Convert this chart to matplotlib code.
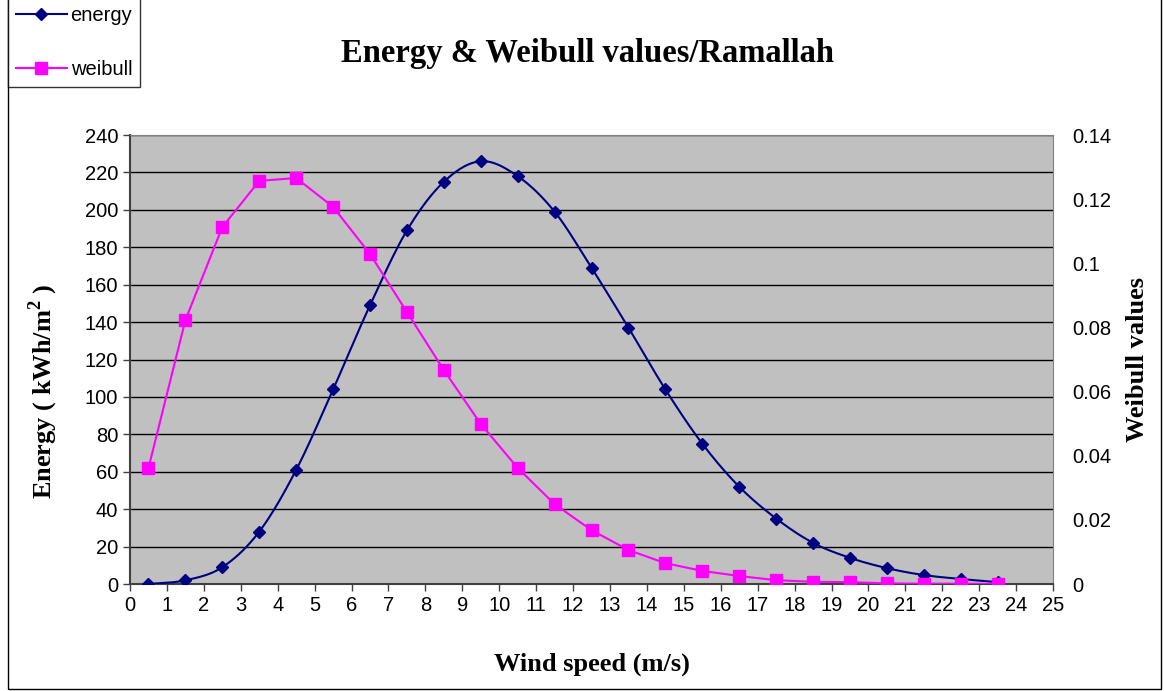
import numpy as np
import matplotlib
matplotlib.use('Agg')
import matplotlib.pyplot as plt
from matplotlib.patches import Rectangle

speed = np.arange(0.5, 24, 1.0)
energy = [0, 2, 9, 28, 61, 104, 149, 189, 215, 226, 218, 199, 169, 137,
          104, 75, 52, 35, 22, 14, 8.5, 4.8, 2.7, 1]
weibull = [0.0362, 0.0823, 0.1113, 0.1257, 0.1266, 0.1176, 0.1029, 0.0848,
           0.0667, 0.0499, 0.0362, 0.0249, 0.0168, 0.0106, 0.0065, 0.0041,
           0.0025, 0.0012, 0.0007, 0.0006, 0.0002, 0.0001, 0.0001, 0.0]


def smooth(x, y, n=20):
    # catmull-rom through the points, like a spreadsheet "smoothed line"
    x = np.asarray(x, float)
    y = np.asarray(y, float)
    px = np.concatenate([[2 * x[0] - x[1]], x, [2 * x[-1] - x[-2]]])
    py = np.concatenate([[2 * y[0] - y[1]], y, [2 * y[-1] - y[-2]]])
    xs, ys = [], []
    t = np.linspace(0, 1, n, endpoint=False)
    for i in range(1, len(px) - 2):
        for p, out in ((px, xs), (py, ys)):
            p0, p1, p2, p3 = p[i - 1], p[i], p[i + 1], p[i + 2]
            out.extend(0.5 * (2 * p1 + (-p0 + p2) * t
                              + (2 * p0 - 5 * p1 + 4 * p2 - p3) * t ** 2
                              + (-p0 + 3 * p1 - 3 * p2 + p3) * t ** 3))
    xs.append(x[-1])
    ys.append(y[-1])
    return np.array(xs), np.array(ys)


serif = 'Liberation Serif'
sans = 'Liberation Sans'
navy = '#000080'
magenta = '#FF00FF'
plt.rcParams['mathtext.fontset'] = 'custom'
plt.rcParams['mathtext.bf'] = 'Liberation Serif:bold'
plt.rcParams['mathtext.rm'] = 'Liberation Serif:bold'

fig = plt.figure(figsize=(11.64, 6.91), dpi=100)
fig.patches.append(Rectangle((0.007, 0.003), 0.99, 1.2, transform=fig.transFigure,
                             fill=False, edgecolor='black', lw=1))

ax = fig.add_axes([0.1117, 0.1548, 0.793, 0.6498])
ax.set_facecolor('#C0C0C0')
ax.set_xlim(0, 25)
ax.set_ylim(0, 240)
ax.set_xticks(range(0, 26))
ax.set_yticks(range(0, 241, 20))
ax.grid(axis='y', color='black', lw=1)
ax.set_axisbelow(True)
ax.tick_params(axis='both', direction='out', length=5, labelsize=14.5, width=1, color='#404040')
for lbl in ax.get_xticklabels() + ax.get_yticklabels():
    lbl.set_fontfamily(sans)
for s in ['top', 'right']:
    ax.spines[s].set_color('#808080')
for s in ['left', 'bottom']:
    ax.spines[s].set_color('#404040')
    ax.spines[s].set_linewidth(1.5)

sx, sy = smooth(speed, energy)
ax.plot(sx, sy, color=navy, lw=1.5, zorder=3)
ax.plot(speed, energy, 'D', color=navy, ms=6, zorder=4)

ax2 = ax.twinx()
ax2.set_ylim(0, 0.14)
ax2.set_yticks([0, 0.02, 0.04, 0.06, 0.08, 0.1, 0.12, 0.14])
ax2.set_yticklabels(['0', '0.02', '0.04', '0.06', '0.08', '0.1', '0.12', '0.14'],
                    fontfamily=sans)
ax2.tick_params(axis='y', length=0, labelsize=14.5, pad=14)
for s in ax2.spines.values():
    s.set_visible(False)
ax2.plot(speed, weibull, color=magenta, lw=1.5, marker='s', ms=8, zorder=3)

ax.set_xlabel('Wind speed (m/s)', fontfamily=serif, fontweight='bold', fontsize=19, labelpad=27)
ax.set_ylabel('Energy ( kWh/m$^\\mathbf{2}$ )', fontfamily=serif, fontweight='bold',
              fontsize=19)
ax.yaxis.set_label_coords(-0.076, 0.43)
ax2.set_ylabel('Weibull values', fontfamily=serif, fontweight='bold', fontsize=19, labelpad=10)

fig.text(0.505, 0.923, 'Energy & Weibull values/Ramallah', ha='center', va='center',
         fontfamily=serif, fontweight='bold', fontsize=23.5)

h1, = ax.plot([], [], color=navy, marker='D', ms=6, lw=1.5)
h2, = ax.plot([], [], color=magenta, marker='s', ms=8, lw=1.5)
leg = fig.legend([h1, h2], ['energy', 'weibull'], loc='upper left',
                 bbox_to_anchor=(0.007, 1.003), fancybox=False, edgecolor='black',
                 prop={'family': sans, 'size': 14.5}, handlelength=2.5,
                 labelspacing=1.75, borderpad=0.4, handletextpad=0.2, borderaxespad=0)
leg.get_frame().set_linewidth(1)

fig.savefig('out.png', dpi=100)
